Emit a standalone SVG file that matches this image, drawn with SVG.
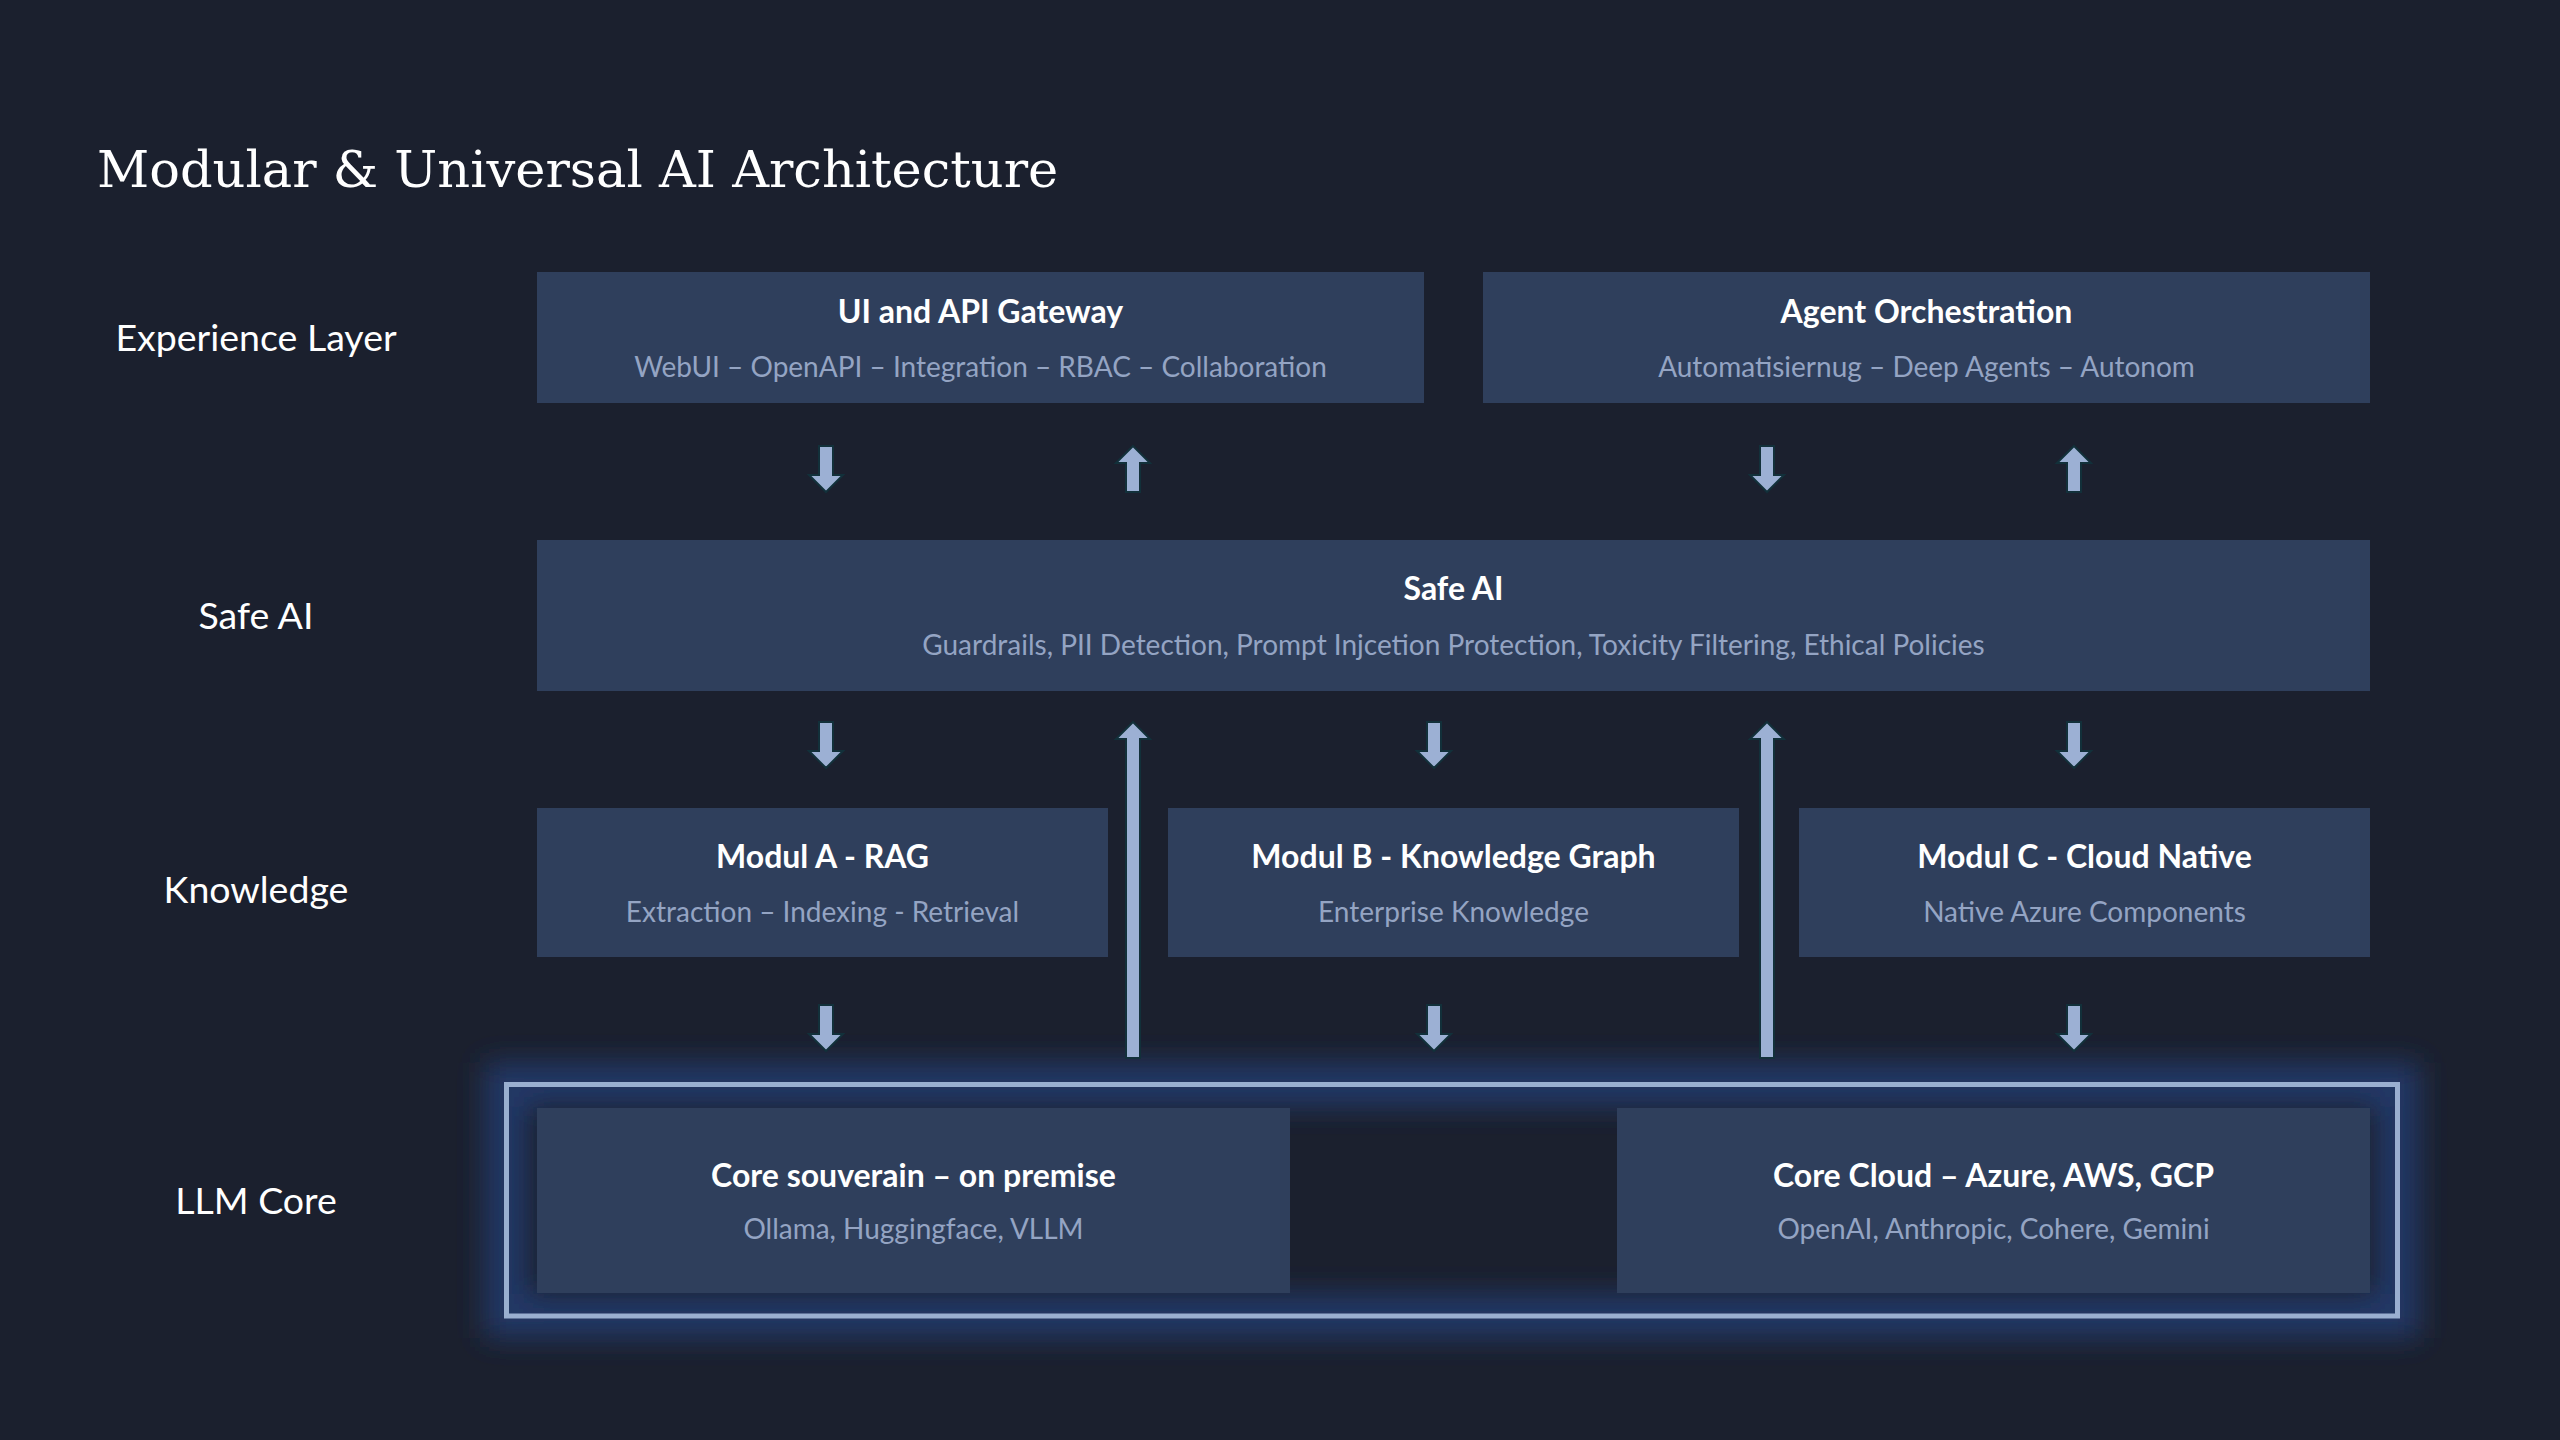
<svg xmlns="http://www.w3.org/2000/svg" width="2560" height="1440" viewBox="0 0 2560 1440">
<style>
.bg{fill:#1b202e}
.box{fill:#2f3f5c}
.title{font-family:"DejaVu Serif","Liberation Serif",serif;font-size:51px;fill:#ffffff}
.lbl{font-family:Lato,"Liberation Sans",sans-serif;font-size:37.5px;fill:#ffffff;text-anchor:middle}
.h{font-family:Lato,"Liberation Sans",sans-serif;font-size:32px;font-weight:bold;fill:#ffffff;text-anchor:middle}
.s{font-family:Lato,"Liberation Sans",sans-serif;font-size:28px;fill:#94a4c3;text-anchor:middle}
.arr{fill:#9cb0d4;stroke:#12303a;stroke-width:2;stroke-linejoin:miter}
</style>
<defs>
<path id="down" d="M-7,0 H7 V29 H17 L0,46 L-17,29 H-7 Z"/>
<path id="up" d="M0,0 L17,17 H7 V46 H-7 V17 H-17 Z"/>
<path id="uplong" d="M0,0 L17,17 H7 V336 H-7 V17 H-17 Z"/>
<filter id="glow" x="-10%" y="-60%" width="120%" height="220%">
<feGaussianBlur stdDeviation="14"/>
</filter>
</defs>
<rect class="bg" x="0" y="0" width="2560" height="1440"/>
<text class="title" x="97" y="187">Modular &amp; Universal AI Architecture</text>

<g id="layer-labels">
<text class="lbl" x="256" y="351">Experience Layer</text>
<text class="lbl" x="256" y="629">Safe AI</text>
<text class="lbl" x="256" y="903">Knowledge</text>
<text class="lbl" x="256" y="1214">LLM Core</text>
</g>

<g id="ui-gateway">
<rect class="box" x="537" y="272" width="887" height="131"/>
<text class="h" x="980.5" y="323">UI and API Gateway</text>
<text class="s" x="980.5" y="377">WebUI – OpenAPI – Integration – RBAC – Collaboration</text>
</g>
<g id="agent-orchestration">
<rect class="box" x="1483" y="272" width="887" height="131"/>
<text class="h" x="1926.5" y="323">Agent Orchestration</text>
<text class="s" x="1926.5" y="377">Automatisiernug – Deep Agents – Autonom</text>
</g>
<g id="safe-ai">
<rect class="box" x="537" y="540" width="1833" height="151"/>
<text class="h" x="1453.5" y="600">Safe AI</text>
<text class="s" x="1453.5" y="655">Guardrails, PII Detection, Prompt Injcetion Protection, Toxicity Filtering, Ethical Policies</text>
</g>
<g id="modul-a">
<rect class="box" x="537" y="808" width="571" height="149"/>
<text class="h" x="822.5" y="868">Modul A - RAG</text>
<text class="s" x="822.5" y="922">Extraction – Indexing - Retrieval</text>
</g>
<g id="modul-b">
<rect class="box" x="1168" y="808" width="571" height="149"/>
<text class="h" x="1453.5" y="868">Modul B - Knowledge Graph</text>
<text class="s" x="1453.5" y="922">Enterprise Knowledge</text>
</g>
<g id="modul-c">
<rect class="box" x="1799" y="808" width="571" height="149"/>
<text class="h" x="2084.5" y="868">Modul C - Cloud Native</text>
<text class="s" x="2084.5" y="922">Native Azure Components</text>
</g>

<g id="llm-core">
<rect x="506.5" y="1084.5" width="1891" height="231.5" fill="none" stroke="#213766" stroke-width="44" filter="url(#glow)"/>
<g id="core-souverain">
<rect class="box" x="537" y="1108" width="753" height="185"/>
<text class="h" x="913.5" y="1187">Core souverain – on premise</text>
<text class="s" x="913.5" y="1239">Ollama, Huggingface, VLLM</text>
</g>
<g id="core-cloud">
<rect class="box" x="1617" y="1108" width="753" height="185"/>
<text class="h" x="1993.5" y="1187">Core Cloud – Azure, AWS, GCP</text>
<text class="s" x="1993.5" y="1239">OpenAI, Anthropic, Cohere, Gemini</text>
</g>
<rect x="506.5" y="1084.5" width="1891" height="231.5" fill="none" stroke="#9aafd0" stroke-width="5"/>
</g>

<g id="connectors" class="arr">
<use href="#down" x="826" y="446"/>
<use href="#up" x="1133" y="446"/>
<use href="#down" x="1767" y="446"/>
<use href="#up" x="2074" y="446"/>
<use href="#down" x="826" y="722"/>
<use href="#uplong" x="1133" y="722"/>
<use href="#down" x="1434" y="722"/>
<use href="#uplong" x="1767" y="722"/>
<use href="#down" x="2074" y="722"/>
<use href="#down" x="826" y="1005"/>
<use href="#down" x="1434" y="1005"/>
<use href="#down" x="2074" y="1005"/>
</g>
</svg>
